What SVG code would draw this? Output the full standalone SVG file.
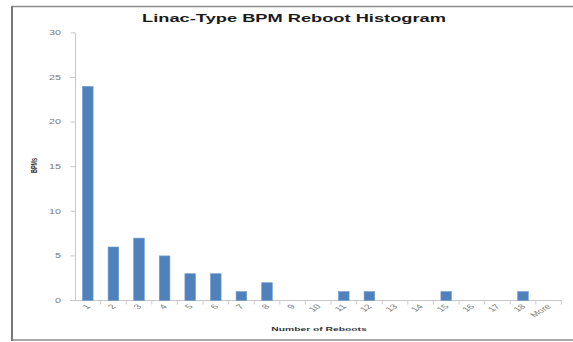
<svg xmlns="http://www.w3.org/2000/svg" width="573" height="342" viewBox="0 0 573 342">
<style>
.frame{stroke:#8c8c8c;fill:none}
.axis{stroke:#c8c8c8;stroke-width:1;fill:none}
.bar{fill:#4f81bd;stroke:#6f99cc;stroke-width:0.6}
.tick{font-family:"Liberation Sans",Arial,sans-serif;font-size:6.5px;fill:#7a7a7a}
.title{font-family:"Liberation Sans",Arial,sans-serif;font-size:11px;font-weight:bold;fill:#1a1a1a}
.lab{font-family:"Liberation Sans",Arial,sans-serif;font-size:6.2px;font-weight:bold;fill:#333}
</style>
<rect width="573" height="342" fill="#fff"/>
<g id="frame">
<line class="frame" x1="12" y1="6.5" x2="573" y2="6.5" stroke-width="1.5"/>
<line class="frame" x1="12" y1="340" x2="573" y2="340" stroke-width="1.5"/>
<line x1="12" y1="6" x2="12" y2="341" stroke="#777" stroke-width="2"/>
</g>
<g id="title"><text class="title" transform="translate(294,22) scale(1.66,1)" text-anchor="middle">Linac-Type BPM Reboot Histogram</text></g>
<g id="axes">
<line class="axis" x1="75.5" y1="32.9" x2="75.5" y2="300.5"/>
<line class="axis" x1="75" y1="300.5" x2="561.4" y2="300.5"/>
<path class="axis" d="M70.5 300.5H75.5M70.5 255.9H75.5M70.5 211.3H75.5M70.5 166.7H75.5M70.5 122.1H75.5M70.5 77.5H75.5M70.5 32.9H75.5"/>
<path class="axis" d="M100.6 300.5v4M126.2 300.5v4M151.8 300.5v4M177.4 300.5v4M203 300.5v4M228.6 300.5v4M254.2 300.5v4M279.8 300.5v4M305.4 300.5v4M331 300.5v4M356.6 300.5v4M382.2 300.5v4M407.8 300.5v4M433.4 300.5v4M459 300.5v4M484.6 300.5v4M510.2 300.5v4M535.8 300.5v4M561.4 300.5v4"/>
</g>
<g id="ylabels" class="tick" text-anchor="end">
<text transform="translate(61,302.8) scale(1.66,1)">0</text>
<text transform="translate(61,258.2) scale(1.66,1)">5</text>
<text transform="translate(61,213.6) scale(1.66,1)">10</text>
<text transform="translate(61,169) scale(1.66,1)">15</text>
<text transform="translate(61,124.4) scale(1.66,1)">20</text>
<text transform="translate(61,79.8) scale(1.66,1)">25</text>
<text transform="translate(61,35.2) scale(1.66,1)">30</text>
</g>
<g id="ytitle"><text class="lab" font-size="5.4" transform="translate(37.2,165.5) scale(1.66,1) rotate(-90)" text-anchor="middle" style="font-size:5.4px">BPMs</text></g>
<g id="bars">
<rect class="bar" x="82.5" y="86.4" width="10.6" height="214.1"/>
<rect class="bar" x="108.1" y="247" width="10.6" height="53.5"/>
<rect class="bar" x="133.7" y="238.1" width="10.6" height="62.4"/>
<rect class="bar" x="159.3" y="255.9" width="10.6" height="44.6"/>
<rect class="bar" x="184.9" y="273.7" width="10.6" height="26.8"/>
<rect class="bar" x="210.5" y="273.7" width="10.6" height="26.8"/>
<rect class="bar" x="236.1" y="291.6" width="10.6" height="8.9"/>
<rect class="bar" x="261.7" y="282.7" width="10.6" height="17.8"/>
<rect class="bar" x="338.5" y="291.6" width="10.6" height="8.9"/>
<rect class="bar" x="364.1" y="291.6" width="10.6" height="8.9"/>
<rect class="bar" x="440.9" y="291.6" width="10.6" height="8.9"/>
<rect class="bar" x="517.7" y="291.6" width="10.6" height="8.9"/>
</g>
<g id="xlabels" class="tick" text-anchor="end">
<text transform="translate(91,307) scale(1.66,1) rotate(-45)">1</text>
<text transform="translate(116.6,307) scale(1.66,1) rotate(-45)">2</text>
<text transform="translate(142.2,307) scale(1.66,1) rotate(-45)">3</text>
<text transform="translate(167.8,307) scale(1.66,1) rotate(-45)">4</text>
<text transform="translate(193.4,307) scale(1.66,1) rotate(-45)">5</text>
<text transform="translate(219,307) scale(1.66,1) rotate(-45)">6</text>
<text transform="translate(244.6,307) scale(1.66,1) rotate(-45)">7</text>
<text transform="translate(270.2,307) scale(1.66,1) rotate(-45)">8</text>
<text transform="translate(295.8,307) scale(1.66,1) rotate(-45)">9</text>
<text transform="translate(321.4,307) scale(1.66,1) rotate(-45)">10</text>
<text transform="translate(347,307) scale(1.66,1) rotate(-45)">11</text>
<text transform="translate(372.6,307) scale(1.66,1) rotate(-45)">12</text>
<text transform="translate(398.2,307) scale(1.66,1) rotate(-45)">13</text>
<text transform="translate(423.8,307) scale(1.66,1) rotate(-45)">14</text>
<text transform="translate(449.4,307) scale(1.66,1) rotate(-45)">15</text>
<text transform="translate(475,307) scale(1.66,1) rotate(-45)">16</text>
<text transform="translate(500.6,307) scale(1.66,1) rotate(-45)">17</text>
<text transform="translate(526.2,307) scale(1.66,1) rotate(-45)">18</text>
<text transform="translate(551.8,307) scale(1.66,1) rotate(-45)">More</text>
</g>
<g id="xtitle"><text class="lab" transform="translate(319,331) scale(1.66,1)" text-anchor="middle">Number of Reboots</text></g>
</svg>
